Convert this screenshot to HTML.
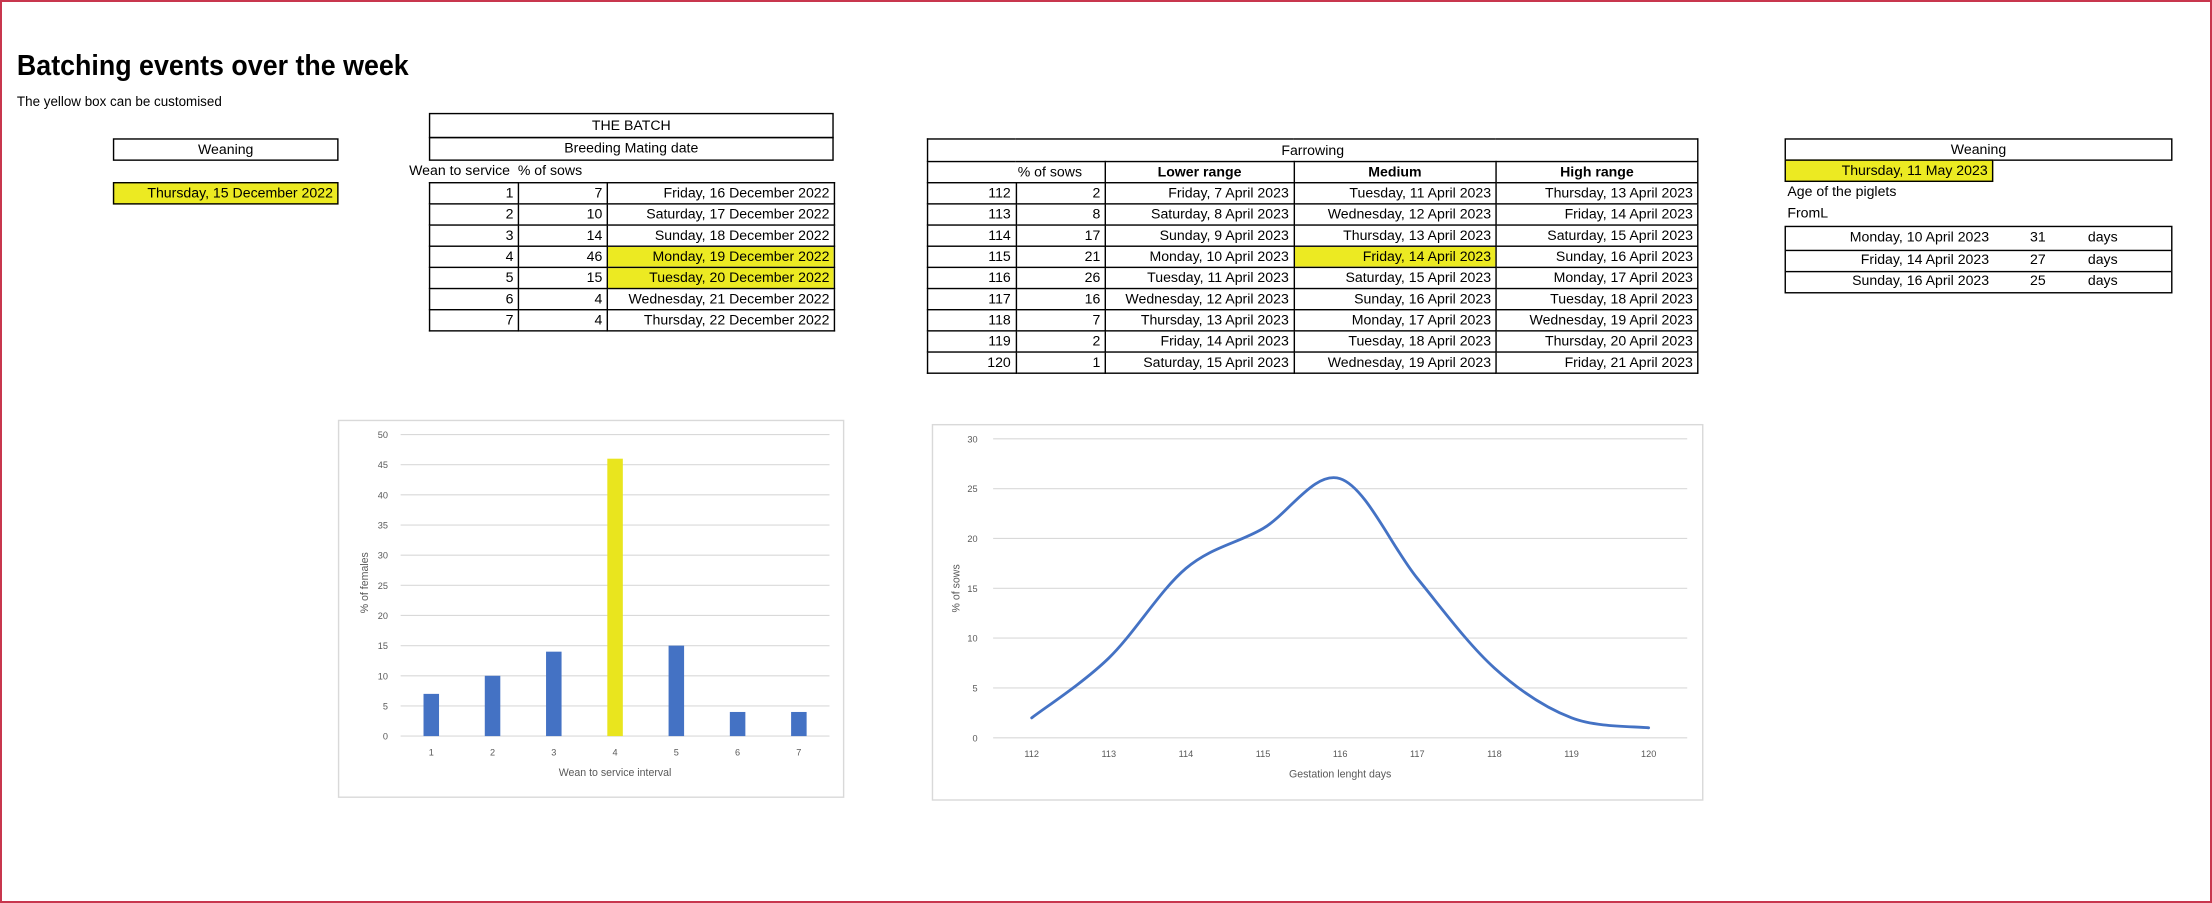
<!DOCTYPE html>
<html><head><meta charset="utf-8">
<style>
html,body{margin:0;padding:0;background:#fff;}
body{width:2212px;height:903px;overflow:hidden;position:relative;font-family:"Liberation Sans",sans-serif;}
#frame{position:absolute;left:0;top:0;width:2208px;height:899px;border:2px solid #c8364e;}
#stage{position:absolute;left:0;top:0;width:1568px;height:640px;transform:scale(1.41071,1.41094);transform-origin:0 0;}
.abs{position:absolute;}
.box{position:absolute;border:1px solid #000;box-sizing:border-box;font-size:10px;line-height:15px;}
.yellow{background:#ecea22;}
table{border-collapse:collapse;table-layout:fixed;position:absolute;font-size:10px;}
td{border:1px solid #000;padding:1px 3px 0 3px;height:14.5px;line-height:13px;white-space:nowrap;overflow:hidden;box-sizing:border-box;}
.r{text-align:right;}.c{text-align:center;}.b{font-weight:bold;}
</style></head>
<body>
<div id="frame"></div>
<div id="stage">
<div class="abs" style="left:12px;top:36px;font-size:20px;font-weight:bold;white-space:nowrap;transform:scaleX(0.95);transform-origin:0 0;">Batching events over the week</div>
<div class="abs" style="left:12px;top:67px;font-size:10px;white-space:nowrap;transform:scaleX(0.95);transform-origin:0 0;">The yellow box can be customised</div>

<div class="box c" style="left:80px;top:98px;width:160px;height:16px;">Weaning</div>
<div class="box r yellow" style="left:80px;top:129px;width:160px;height:16px;padding-right:3px;">Thursday, 15 December 2022</div>

<div class="box c" style="left:304px;top:80px;width:287px;height:18px;line-height:17px;">THE BATCH</div>
<div class="box c" style="left:304px;top:97px;width:287px;height:17px;line-height:16px;">Breeding Mating date</div>
<div class="abs" style="left:290px;top:116px;font-size:10px;white-space:nowrap;">Wean to service&nbsp; % of sows</div>
<table style="left:304px;top:129px;width:287px;">
<colgroup><col style="width:63px"><col style="width:63px"><col style="width:161px"></colgroup>
<tr><td class="r">1</td><td class="r">7</td><td class="r">Friday, 16 December 2022</td></tr>
<tr><td class="r">2</td><td class="r">10</td><td class="r">Saturday, 17 December 2022</td></tr>
<tr><td class="r">3</td><td class="r">14</td><td class="r">Sunday, 18 December 2022</td></tr>
<tr><td class="r">4</td><td class="r">46</td><td class="r yellow">Monday, 19 December 2022</td></tr>
<tr><td class="r">5</td><td class="r">15</td><td class="r yellow">Tuesday, 20 December 2022</td></tr>
<tr><td class="r">6</td><td class="r">4</td><td class="r">Wednesday, 21 December 2022</td></tr>
<tr><td class="r">7</td><td class="r">4</td><td class="r">Thursday, 22 December 2022</td></tr>
</table>

<table style="left:657px;top:98px;width:546px;">
<colgroup><col style="width:62.5px"><col style="width:63.5px"><col style="width:133.6px"><col style="width:143.4px"><col style="width:143px"></colgroup>
<tr><td colspan="5" class="c" style="height:16px">Farrowing</td></tr>
<tr><td colspan="2" class="r" style="padding-right:16px">% of sows</td><td class="c b">Lower range</td><td class="c b">Medium</td><td class="c b">High range</td></tr>
<tr><td class="r">112</td><td class="r">2</td><td class="r">Friday, 7 April 2023</td><td class="r">Tuesday, 11 April 2023</td><td class="r">Thursday, 13 April 2023</td></tr>
<tr><td class="r">113</td><td class="r">8</td><td class="r">Saturday, 8 April 2023</td><td class="r">Wednesday, 12 April 2023</td><td class="r">Friday, 14 April 2023</td></tr>
<tr><td class="r">114</td><td class="r">17</td><td class="r">Sunday, 9 April 2023</td><td class="r">Thursday, 13 April 2023</td><td class="r">Saturday, 15 April 2023</td></tr>
<tr><td class="r">115</td><td class="r">21</td><td class="r">Monday, 10 April 2023</td><td class="r yellow">Friday, 14 April 2023</td><td class="r">Sunday, 16 April 2023</td></tr>
<tr><td class="r">116</td><td class="r">26</td><td class="r">Tuesday, 11 April 2023</td><td class="r">Saturday, 15 April 2023</td><td class="r">Monday, 17 April 2023</td></tr>
<tr><td class="r">117</td><td class="r">16</td><td class="r">Wednesday, 12 April 2023</td><td class="r">Sunday, 16 April 2023</td><td class="r">Tuesday, 18 April 2023</td></tr>
<tr><td class="r">118</td><td class="r">7</td><td class="r">Thursday, 13 April 2023</td><td class="r">Monday, 17 April 2023</td><td class="r">Wednesday, 19 April 2023</td></tr>
<tr><td class="r">119</td><td class="r">2</td><td class="r">Friday, 14 April 2023</td><td class="r">Tuesday, 18 April 2023</td><td class="r">Thursday, 20 April 2023</td></tr>
<tr><td class="r">120</td><td class="r">1</td><td class="r">Saturday, 15 April 2023</td><td class="r">Wednesday, 19 April 2023</td><td class="r">Friday, 21 April 2023</td></tr>
</table>

<div class="box c" style="left:1265px;top:98px;width:275px;height:16px;">Weaning</div>
<div class="box r yellow" style="left:1265px;top:113px;width:148px;height:16px;padding-right:3px;">Thursday, 11 May 2023</div>
<div class="abs" style="left:1267px;top:131px;font-size:10px;">Age of the piglets</div>
<div class="abs" style="left:1267px;top:146px;font-size:10px;">FromL</div>
<div class="box" style="left:1265px;top:160px;width:275px;height:48px;line-height:16px;">
 <div class="abs" style="left:0;top:0;width:273px;height:15.5px;border-bottom:1px solid #000;"><span class="abs r" style="right:129px;">Monday, 10 April 2023</span><span class="abs" style="left:173px;">31</span><span class="abs" style="left:214px;">days</span></div>
 <div class="abs" style="left:0;top:15.5px;width:273px;height:15.5px;border-bottom:1px solid #000;"><span class="abs r" style="right:129px;">Friday, 14 April 2023</span><span class="abs" style="left:173px;">27</span><span class="abs" style="left:214px;">days</span></div>
 <div class="abs" style="left:0;top:31px;width:273px;height:15.5px;"><span class="abs r" style="right:129px;">Sunday, 16 April 2023</span><span class="abs" style="left:173px;">25</span><span class="abs" style="left:214px;">days</span></div>
</div>

<svg id="charts" class="abs" style="left:0;top:0" width="1568" height="640" font-family="Liberation Sans, sans-serif"></svg>
</div>
<script>
const barCategories = ["1","2","3","4","5","6","7"];
const barValues = [7, 10, 14, 46, 15, 4, 4];
const barHighlight = [false, false, false, true, false, false, false];
const barTicks = [0, 5, 10, 15, 20, 25, 30, 35, 40, 45, 50];
const lineCategories = ["112","113","114","115","116","117","118","119","120"];
const lineValues = [2, 8, 17, 21, 26, 16, 7, 2, 1];
const lineTicks = [0, 5, 10, 15, 20, 25, 30];

const NS = "http://www.w3.org/2000/svg";
const svg = document.getElementById("charts");
function mk(tag, attrs, parent) {
  const e = document.createElementNS(NS, tag);
  for (const k in attrs) e.setAttribute(k, attrs[k]);
  (parent || svg).appendChild(e);
  return e;
}

// ---- bar chart ----
const bc = {l:240, t:298, w:358, h:267, px0:284, px1:588, py0:521.7, py1:308, max:50};
let e = mk("rect", {x:bc.l, y:bc.t, width:bc.w, height:bc.h, fill:"#fff", stroke:"#d9d9d9"});


const bx = i => bc.px0 + (i + 0.5) * (bc.px1 - bc.px0) / barCategories.length;
const by = v => bc.py0 - v * (bc.py0 - bc.py1) / bc.max;
barTicks.forEach(t => {
  e = mk("line", {x1:bc.px0, x2:bc.px1, y1:by(t), y2:by(t), stroke:"#d9d9d9", "stroke-width":0.8});
  
  
  e = mk("text", {x:275, y:by(t)+2.5, "font-size":6.5, fill:"#595959", "text-anchor":"end"});
  e.textContent = t;
  
  
});
barCategories.forEach((c, i) => {
  e = mk("rect", {x:bx(i)-5.5, y:by(barValues[i]), width:11, height:by(0)-by(barValues[i]), fill: barHighlight[i] ? "#e9e51e" : "#4472c4"});
  
  
  e = mk("text", {x:bx(i), y:535.5, "font-size":6.5, fill:"#595959", "text-anchor":"middle"});
  e.textContent = c;
  
  
});
e = mk("text", {x:(bc.px0+bc.px1)/2, y:550, "font-size":7.5, fill:"#595959", "text-anchor":"middle"});
e.textContent = "Wean to service interval";


e = mk("text", {x:0, y:0, "font-size":7.5, fill:"#595959", "text-anchor":"middle", transform:"translate(261,413) rotate(-90)"});
e.textContent = "% of females";



// ---- line chart ----
const lc = {l:661, t:301, w:546, h:266, px0:704, px1:1196, py0:522.9, py1:311, max:30};
e = mk("rect", {x:lc.l, y:lc.t, width:lc.w, height:lc.h, fill:"#fff", stroke:"#d9d9d9"});


const lx = i => lc.px0 + (i + 0.5) * (lc.px1 - lc.px0) / lineCategories.length;
const ly = v => lc.py0 - v * (lc.py0 - lc.py1) / lc.max;
lineTicks.forEach(t => {
  e = mk("line", {x1:lc.px0, x2:lc.px1, y1:ly(t), y2:ly(t), stroke:"#d9d9d9", "stroke-width":0.8});
  
  
  e = mk("text", {x:693, y:ly(t)+2.5, "font-size":6.5, fill:"#595959", "text-anchor":"end"});
  e.textContent = t;
  
  
});
lineCategories.forEach((c, i) => {
  e = mk("text", {x:lx(i), y:536.5, "font-size":6.5, fill:"#595959", "text-anchor":"middle"});
  e.textContent = c;
  
  
});
const pts = lineValues.map((v, i) => [lx(i), ly(v)]);
let d = "M" + pts[0][0] + "," + pts[0][1];
for (let i = 0; i < pts.length - 1; i++) {
  const p0 = pts[Math.max(0, i-1)], p1 = pts[i], p2 = pts[i+1], p3 = pts[Math.min(pts.length-1, i+2)];
  const k = 1/6;
  const c1 = [p1[0] + (p2[0]-p0[0])*k, p1[1] + (p2[1]-p0[1])*k];
  const c2 = [p2[0] - (p3[0]-p1[0])*k, p2[1] - (p3[1]-p1[1])*k];
  d += " C" + c1[0] + "," + c1[1] + " " + c2[0] + "," + c2[1] + " " + p2[0] + "," + p2[1];
}
e = mk("path", {d:d, fill:"none", stroke:"#4472c4", "stroke-width":2, "stroke-linecap":"round"});


e = mk("text", {x:(lc.px0+lc.px1)/2, y:551, "font-size":7.5, fill:"#595959", "text-anchor":"middle"});
e.textContent = "Gestation lenght days";


e = mk("text", {x:0, y:0, "font-size":7.5, fill:"#595959", "text-anchor":"middle", transform:"translate(680,417) rotate(-90)"});
e.textContent = "% of sows";


</script>
</body></html>
